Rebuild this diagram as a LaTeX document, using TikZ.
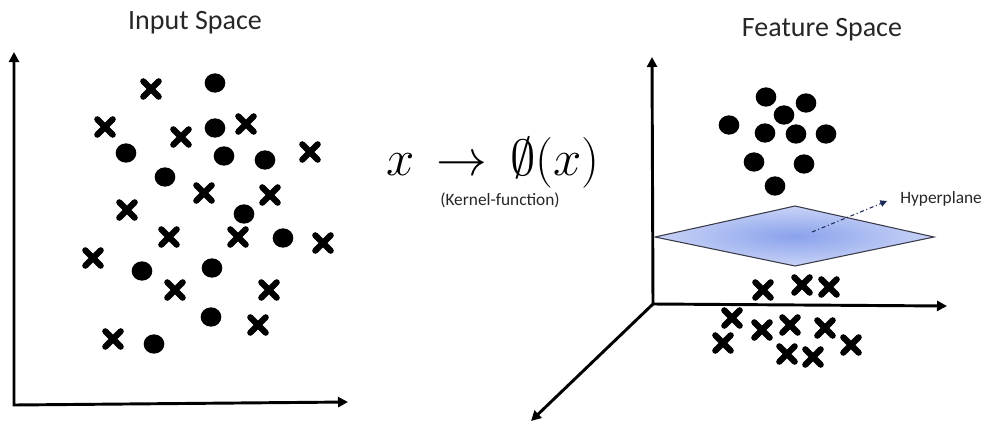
\documentclass[tikz,border=0pt]{standalone}
\usepackage{fontspec}
\setmainfont{Carlito}
\usepackage{amsmath,amssymb}
\usetikzlibrary{arrows.meta,positioning,shapes.geometric,shapes.misc}
\definecolor{planein}{HTML}{8AA2EC}
\definecolor{planeout}{HTML}{C8D3F6}
\definecolor{planeedge}{HTML}{3A3A4A}
\definecolor{pointerc}{HTML}{1C2B55}

\begin{document}
\begin{tikzpicture}[
  x=0.75pt, y=-0.75pt,
  dot/.style={ellipse, fill=black, inner sep=0pt,
    minimum width=15.5pt, minimum height=14.5pt},
  xmark/.style={cross out, draw=black, line width=4.6pt, line cap=round,
    inner sep=0pt, minimum size=7pt},
  axis/.style={line width=2.2pt, {Triangle[length=7.5pt,width=7.5pt]}-{Triangle[length=7.5pt,width=7.5pt]}},
  axis1/.style={line width=2.2pt, -{Triangle[length=7.5pt,width=7.5pt]}},
  heading/.style={font=\fontsize{21}{24}\selectfont, text=black!85},
  small/.style={font=\fontsize{13}{15}\selectfont, text=black!85},
  plane/.style={draw=planeedge, line width=0.8pt, inner color=planein, outer color=planeout},
  pointer/.style={draw=pointerc, line width=0.8pt, dash dot, -{Triangle[length=5pt,width=5pt]}}
]
  \useasboundingbox (0,0) rectangle (988,425);

  \node[heading] (inlabel) at (195,23) {Input Space};
  \node[heading] (featlabel) at (822,30) {Feature Space};

  \coordinate (lo) at (14,405);
  \coordinate (ly) at (14,52);
  \coordinate (lx) at (348,402);
  \draw[axis] (ly) -- (lo) -- (lx);

  \foreach \p [count=\i] in {(215,83),(215,128),(126,153),(224,156),(265,160),(165,177),
      (244,214),(283,238),(142,271),(212,268),(211,317),(154,344)}
    \node[dot] (ld\i) at \p {};
  \foreach \p [count=\i] in {(151,89),(105,127),(181,137),(246,124),(310,152),(204,193),
      (270,195),(127,210),(169,237),(238,237),(323,243),(93,258),(175,290),(269,290),
      (258,325),(113,339)}
    \node[xmark] (lx\i) at \p {};

  \node[anchor=base, inner sep=0pt, font=\Huge, scale=1.53] (map) at (493,175)
    {$x\mkern3mu\rightarrow\mkern3mu\emptyset(x)$};
  \node[small] (kernel) at (500,200) {(Kernel-function)};

  \coordinate (ro) at (653,304);
  \coordinate (ry) at (652,57);
  \coordinate (rx) at (947,306);
  \coordinate (rz) at (531,421);
  \draw[axis] (ry) -- (ro) -- (rx);
  \draw[axis1] (ro) -- (rz);

  \foreach \p [count=\i] in {(766,97),(806,103),(784,115),(729,125),(765,133),(796,134),
      (826,134),(754,162),(804,164),(775,186)}
    \node[dot] (rd\i) at \p {};

  \coordinate (pl) at (655,237);
  \coordinate (pt) at (795,206);
  \coordinate (pr) at (934,237);
  \coordinate (pb) at (795,266);
  \shade[plane] (pl) -- (pt) -- (pr) -- (pb) -- cycle;

  \coordinate (pc) at (812,232);
  \coordinate (hyptip) at (887,201);
  \node[small, anchor=west, inner sep=0pt] (hyp) at (900,199) {Hyperplane};
  \draw[pointer] (pc) -- (hyptip);

  \foreach \p [count=\i] in {(763,290),(802,285),(829,287),(732,318),(762,330),(790,325),
      (825,328),(723,343),(787,354),(813,357),(851,345)}
    \node[xmark] (rx\i) at \p {};
\end{tikzpicture}
\end{document}
